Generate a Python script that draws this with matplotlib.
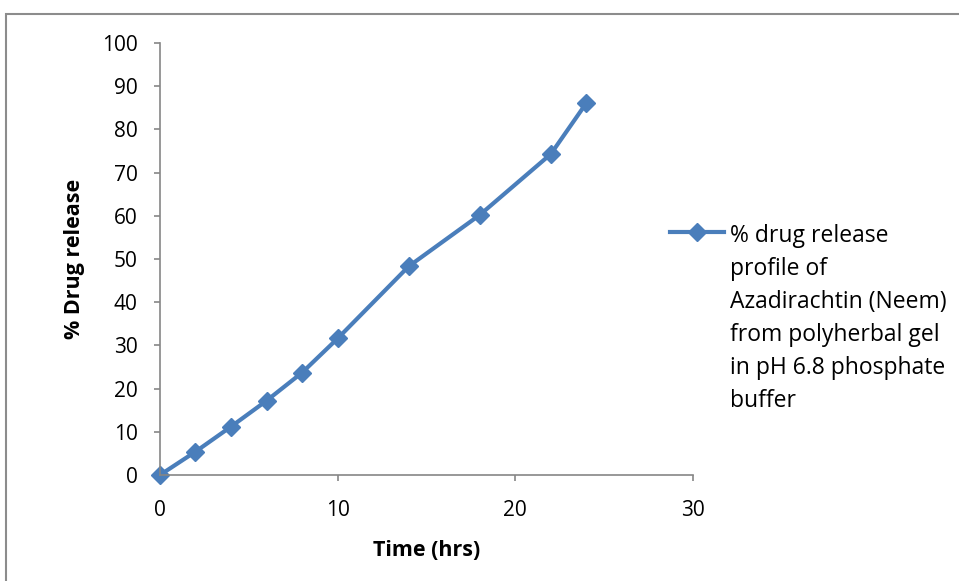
import matplotlib.pyplot as plt
from matplotlib.patches import Rectangle
from matplotlib.offsetbox import HPacker

# data
time_hrs = [0, 2, 4, 6, 8, 10, 14, 18, 22, 24]
release = [0, 5.4, 11.2, 17.2, 23.7, 31.6, 48.3, 60.2, 74.3, 86.1]
series_label = ('% drug release\nprofile of\nAzadirachtin (Neem)\n'
                'from polyherbal gel\nin pH 6.8 phosphate\nbuffer')
x_ticks = [0, 10, 20, 30]
y_ticks = list(range(0, 101, 10))

plt.rcParams['font.family'] = ['Open Sans', 'DejaVu Sans']

blue = '#4a7ebb'
grey = '#868686'

fig = plt.figure(figsize=(9.59, 5.81), dpi=100)
ax = fig.add_axes([0.1668, 1 - 475 / 581, 0.5558, 432 / 581])

ax.plot(time_hrs, release, color=blue, lw=3, marker='D', ms=9,
        markeredgecolor=blue, label=series_label, clip_on=False)

ax.set_xlim(0, 30)
ax.set_ylim(0, 100)
ax.set_xticks(x_ticks)
ax.set_yticks(y_ticks)
ax.tick_params(labelsize=15, color=grey, length=4, width=1.2)
ax.tick_params(axis='x', pad=14)
ax.tick_params(axis='y', pad=12)

for side in ['top', 'right']:
    ax.spines[side].set_visible(False)
for side in ['left', 'bottom']:
    ax.spines[side].set_color(grey)
    ax.spines[side].set_linewidth(1.2)

ax.set_xlabel('Time (hrs)', fontsize=15.5, fontweight='bold', labelpad=14)
ax.set_ylabel('% Drug release', fontsize=15.5, fontweight='bold', labelpad=12)

leg = ax.legend(loc='upper left', bbox_to_anchor=(0.957, 0.582), frameon=False,
                fontsize=16.5, handlelength=2.35, handletextpad=0.25,
                borderaxespad=0, borderpad=0)
leg.get_texts()[0].set_linespacing(1.5)


# keep the marker level with the first line of the label
def align_rows(box):
    for child in box.get_children():
        if isinstance(child, HPacker):
            child.align = 'top'
        if hasattr(child, 'get_children'):
            align_rows(child)


align_rows(leg._legend_handle_box)

# outer chart frame
fig.patches.append(Rectangle((5.5 / 959, -0.1), 1.2, 1 - 13.5 / 581 + 0.1,
                             transform=fig.transFigure, fill=False,
                             edgecolor='#8c8c8c', lw=1.5))

fig.savefig('out.png', dpi=100)
